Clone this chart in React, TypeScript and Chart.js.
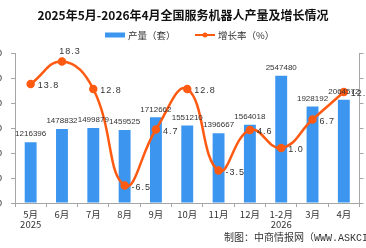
import React, { useEffect, useRef } from "react";
import { Chart, registerables } from "chart.js";

Chart.register(...registerables);

const categories: (string | string[])[] = [
  ["5月", "2025"], "6月", "7月", "8月", "9月", "10月", "11月", "12月", ["1-2月", "2026"], "3月", "4月",
];
const output = [1216396, 1478832, 1499879, 1459525, 1712662, 1551210, 1396667, 1564018, 2547480, 1928192, 2064572];
const growth = [13.8, 18.3, 12.8, -6.5, 4.7, 12.8, -3.5, 4.6, 1.0, 6.7, 12.2];
const titleText = "2025年5月-2026年4月全国服务机器人产量及增长情况";
const legendBar = "产量（套）";
const legendLine = "增长率（%）";
const footerText = "制图：中商情报网（WWW.ASKCI.COM）";

const BAR_COLOR = "#3C96F0";
const LINE_COLOR = "#FF5A12";
const TEXT = "#333333";
const AXIS = "#A6A6A6";
const FONT = '"Liberation Sans", "Noto Sans CJK SC", sans-serif';
const CJK = '"Noto Sans CJK SC", "Liberation Sans", sans-serif';
const MONO = '"Liberation Mono", "Noto Sans CJK SC", monospace';

const decorPlugin = {
  id: "decor",
  afterDatasetsDraw(chart: any) {
    const ctx = chart.ctx;
    ctx.save();
    // bar labels
    const barMeta = chart.getDatasetMeta(0);
    ctx.fillStyle = TEXT;
    ctx.font = `8px ${FONT}`;
    ctx.textAlign = "center";
    ctx.textBaseline = "bottom";
    barMeta.data.forEach((el: any, i: number) => {
      ctx.fillText(String(output[i]), el.x, el.y - 4);
    });
    // line labels
    const lineMeta = chart.getDatasetMeta(1);
    const maxV = Math.max(...growth);
    ctx.font = `9px ${FONT}`;
    (ctx as any).letterSpacing = "1px";
    lineMeta.data.forEach((el: any, i: number) => {
      const t = growth[i].toFixed(1);
      if (growth[i] === maxV) {
        ctx.textAlign = "center";
        ctx.textBaseline = "bottom";
        ctx.fillText(t, el.x + 8, el.y - 5);
      } else {
        ctx.textAlign = "left";
        ctx.textBaseline = "middle";
        ctx.fillText(t, el.x + 7, el.y + 2);
      }
    });
    ctx.restore();
  },
  afterDraw(chart: any) {
    const ctx = chart.ctx;
    const W = chart.width;
    ctx.save();
    // title
    ctx.fillStyle = "#111";
    ctx.font = `bold 12px ${CJK}`;
    ctx.textAlign = "center";
    ctx.textBaseline = "middle";
    ctx.fillText(titleText, W / 2, 15);
    // legend
    ctx.font = `9.5px ${CJK}`;
    const box = 20, gap = 3;
    const ly = 35;
    let x = 105;
    ctx.fillStyle = BAR_COLOR;
    ctx.fillRect(x, ly - 2.5, box, 5);
    ctx.fillStyle = TEXT;
    ctx.textAlign = "left";
    ctx.fillText(legendBar, x + box + gap, ly);
    x = 195;
    ctx.strokeStyle = LINE_COLOR;
    ctx.lineWidth = 2;
    ctx.beginPath();
    ctx.moveTo(x, ly);
    ctx.lineTo(x + box, ly);
    ctx.stroke();
    ctx.fillStyle = LINE_COLOR;
    ctx.beginPath();
    ctx.arc(x + box / 2, ly, 2.5, 0, Math.PI * 2);
    ctx.fill();
    ctx.fillStyle = TEXT;
    ctx.fillText(legendLine, x + box + gap, ly);
    // footer
    ctx.font = `10px ${MONO}`;
    ctx.fillStyle = TEXT;
    ctx.fillText(footerText, 224, 238);
    ctx.restore();
  },
};

export default function App() {
  const ref = useRef<HTMLCanvasElement | null>(null);
  useEffect(() => {
    document.body.style.margin = "0";
    if (!ref.current) return;
    const chart = new Chart(ref.current, {
      type: "bar",
      data: {
        labels: categories,
        datasets: [
          {
            type: "bar",
            label: legendBar,
            data: output,
            backgroundColor: BAR_COLOR,
            yAxisID: "y",
            barPercentage: 0.38,
            categoryPercentage: 1,
            order: 2,
          },
          {
            type: "line",
            label: legendLine,
            data: growth,
            borderColor: LINE_COLOR,
            backgroundColor: LINE_COLOR,
            borderWidth: 2.5,
            pointRadius: 3,
            pointBackgroundColor: LINE_COLOR,
            pointBorderColor: LINE_COLOR,
            tension: 0.45,
            yAxisID: "y1",
            order: 1,
          } as any,
        ],
      },
      options: {
        responsive: false,
        animation: false,
        layout: { padding: { top: 53, left: 0, right: 0, bottom: 0 } },
        plugins: {
          legend: { display: false },
          title: { display: false },
          tooltip: { enabled: false },
        },
        scales: {
          x: {
            offset: true,
            grid: {
              offset: true,
              drawOnChartArea: false,
              drawTicks: true,
              tickLength: 4,
              color: AXIS,
            },
            border: { color: AXIS },
            ticks: {
              color: TEXT,
              font: { size: 9.5, family: CJK, lineHeight: 1.0 },
              padding: 3,
              maxRotation: 0,
              autoSkip: false,
            },
            afterFit: (s: any) => {
              s.height = 45;
            },
          },
          y: {
            position: "left",
            min: 0,
            max: 3000000,
            ticks: { stepSize: 500000, color: TEXT, font: { size: 9.5, family: FONT }, padding: 9 },
            grid: { drawOnChartArea: false, tickLength: 4, color: AXIS },
            border: { color: AXIS },
            afterFit: (s: any) => {
              s.width = 15;
            },
          },
          y1: {
            position: "right",
            min: -10,
            max: 20,
            ticks: { stepSize: 5, color: TEXT, font: { size: 9.5, family: FONT }, padding: 7 },
            grid: { drawOnChartArea: false, tickLength: 4, color: AXIS },
            border: { color: AXIS },
            afterFit: (s: any) => {
              s.width = 1;
            },
          },
        },
      },
      plugins: [decorPlugin],
    });
    return () => chart.destroy();
  }, []);
  return (
    <div style={{ width: 366, height: 248, position: "relative", background: "#fff" }}>
      <canvas ref={ref} width={366} height={248} />
    </div>
  );
}
